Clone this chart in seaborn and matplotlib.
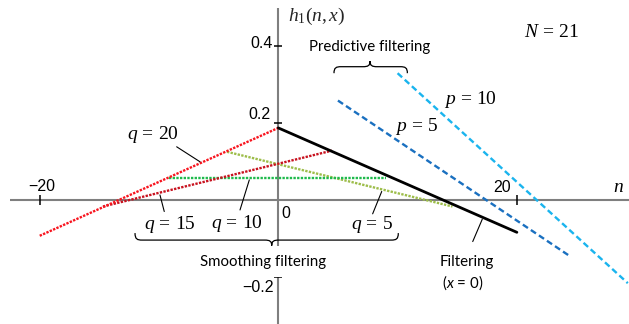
import numpy as np
import pandas as pd
import matplotlib
matplotlib.use("Agg")
import matplotlib.pyplot as plt
from matplotlib.path import Path
from matplotlib.patches import PathPatch
from matplotlib.transforms import IdentityTransform
import seaborn as sns

# Impulse responses h1(n, x) of the N = 21 linear smoother / filter / predictor
filter_n = [0, 20]
filter_h = [0.187, -0.084]
q20_n = [-20, 0]
q20_h = [-0.093, 0.187]
q15_n = [-14.7, 4.5]
q15_h = [-0.017, 0.128]
q10_n = [-9.2, 9.0]
q10_h = [0.058, 0.058]
q5_n = [-4.3, 14.6]
q5_h = [0.125, -0.017]
p5_n = [5.0, 24.4]
p5_h = [0.258, -0.145]
p10_n = [10.0, 29.3]
p10_h = [0.329, -0.216]

x_ticks = [-20, 20]
y_ticks = [0.4, 0.2, -0.2]

sns.set_theme(style="white")
plt.rcParams["mathtext.fontset"] = "custom"
plt.rcParams["mathtext.rm"] = "Liberation Serif"
plt.rcParams["mathtext.it"] = "Liberation Serif:italic"
plt.rcParams["mathtext.sf"] = "Lato:italic"
plt.rcParams["font.family"] = ["Lato", "DejaVu Sans"]

fig = plt.figure(figsize=(6.29, 3.24), dpi=100)
ax = fig.add_axes([0, 0, 1, 1])

axis_grey = "#7f7f7f"
# coordinate axes through the origin
ax.plot([-22.5, 29.4], [0, 0], color=axis_grey, lw=1.5, zorder=1, solid_capstyle="butt")
ax.plot([0, 0], [0.499, -0.322], color=axis_grey, lw=1.5, zorder=1, solid_capstyle="butt")
ax.plot(x_ticks, [0] * len(x_ticks), ls="none", marker="|", ms=7, mew=1.1, color="black", zorder=2)
ax.plot([0] * len(y_ticks), y_ticks, ls="none", marker="_", ms=6, mew=1.1, color="black", zorder=2)

dot = (0, (1.0, 0.55))
dash = (0, (2.6, 1.5))
series = [
    (q5_n, q5_h, "#9dbd4a", dot, 1.7),
    (q10_n, q10_h, "#1fba4c", dot, 1.7),
    (q15_n, q15_h, "#c8121f", dot, 1.7),
    (q20_n, q20_h, "#f8141e", dot, 1.7),
    (p5_n, p5_h, "#1a70c0", dash, 1.7),
    (p10_n, p10_h, "#1ab4ee", dash, 1.7),
    (filter_n, filter_h, "black", "-", 2.0),
]
for i, (n, h, col, ls, lw) in enumerate(series):
    df = pd.DataFrame({"n": n, "h": h})
    sns.lineplot(data=df, x="n", y="h", color=col, linestyle=ls, lw=lw,
                 sort=False, ax=ax, zorder=3 + i)
ax.set_xlim(-23.33, 29.40)
ax.set_ylim(-0.322, 0.519)
ax.axis("off")

# tick labels
tick_kw = dict(fontsize=11.5, family=["Liberation Sans", "DejaVu Sans"], color="black")
ax.text(-19.8, 0.036, "\u221220", ha="center", va="center", **tick_kw)
ax.text(18.8, 0.032, "20", ha="center", va="center", **tick_kw)
ax.text(0.6, -0.035, "0", ha="center", va="center", **tick_kw)
ax.text(-0.5, 0.405, "0.4", ha="right", va="center", **tick_kw)
ax.text(-0.64, 0.223, "0.2", ha="right", va="center", **tick_kw)
ax.text(-0.42, -0.227, "\u22120.2", ha="right", va="center", **tick_kw)

# axis names and parameter labels
m_kw = dict(fontsize=14, color="black", ha="center", va="center")
ax.text(0.84, 0.476, r"$h_1(n,x)$", fontsize=14, ha="left", va="center")
ax.text(28.5, 0.035, r"$n$", **m_kw)
ax.text(22.9, 0.437, r"$N\,=\,21$", **m_kw)
ax.text(16.07, 0.26, r"$p\,=\,10$", **m_kw)
ax.text(11.6, 0.19, r"$p\,=\,5$", **m_kw)
ax.text(-10.48, 0.169, r"$q\,=\,20$", **m_kw)
ax.text(-9.08, -0.065, r"$q\,=\,15$", **m_kw)
ax.text(-3.49, -0.062, r"$q\,=\,10$", **m_kw)
ax.text(7.83, -0.065, r"$q\,=\,5$", **m_kw)

s_kw = dict(fontsize=10.8, color="black", ha="center", va="center")
ax.text(7.69, 0.397, "Predictive filtering", **s_kw)
ax.text(-1.26, -0.160, "Smoothing filtering", zorder=20,
        bbox=dict(fc="white", ec="none", pad=6), **s_kw)
ax.text(15.79, -0.160, "Filtering", **s_kw)
ax.text(15.46, -0.216, r"($\mathsf{x}$ = 0)", **s_kw)

# leader lines from labels to curves
leaders = [
    ((-8.52, -6.56), (0.138, 0.099)),
    ((-9.92, -9.56), (0.013, -0.030)),
    ((-3.21, -2.43), (-0.026, 0.052)),
    ((7.91, 8.67), (-0.036, 0.022)),
    ((16.3, 17.1), (-0.108, -0.050)),
]
for xs, ys in leaders:
    ax.plot(xs, ys, color="black", lw=0.8, zorder=15)


def brace(ax, x1, x2, y, xtip, depth, tip, up=True):
    """Curly brace from x1 to x2 (data) at height y, body offset depth px, tip offset tip px."""
    fig.canvas.draw()
    (a, b) = ax.transData.transform((x1, y))
    (c, _) = ax.transData.transform((x2, y))
    (t, _) = ax.transData.transform((xtip, y))
    s = 1 if up else -1
    h1 = b + s * depth
    h2 = b + s * (depth + tip)
    r = 7
    verts = [
        (a, b), (a, h1 - s * 1), (a + r * 0.3, h1), (a + r, h1),
        (t - r, h1),
        (t - r * 0.3, h1), (t, h1 + s * 1), (t, h2),
        (t, h1 + s * 1), (t + r * 0.3, h1), (t + r, h1),
        (c - r, h1),
        (c - r * 0.3, h1), (c, h1 - s * 1), (c, b),
    ]
    codes = [Path.MOVETO, Path.CURVE4, Path.CURVE4, Path.CURVE4,
             Path.LINETO,
             Path.CURVE4, Path.CURVE4, Path.CURVE4,
             Path.CURVE4, Path.CURVE4, Path.CURVE4,
             Path.LINETO,
             Path.CURVE4, Path.CURVE4, Path.CURVE4]
    patch = PathPatch(Path(verts, codes), transform=IdentityTransform(),
                      fc="none", ec="black", lw=0.9, zorder=25)
    fig.add_artist(patch)


brace(ax, 4.67, 10.82, 0.329, 7.69, 6.5, 5.5, up=True)
brace(ax, -12.01, 10.06, -0.086, -0.55, 7.0, 5.5, up=False)

fig.savefig("out.png", dpi=100)
